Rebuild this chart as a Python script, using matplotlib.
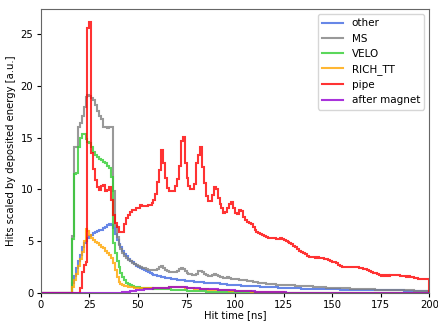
import matplotlib
matplotlib.use("Agg")
import matplotlib.pyplot as plt
import numpy as np

# hit time bins, 1 ns wide, 0..200 ns
bin_edges = np.arange(0, 201, 1)

other = [
    0, 0, 0, 0, 0, 0, 0, 0, 0, 0,
    0, 0, 0, 0, 0, 0, 1.0, 1.6, 2.4, 3.1,
    3.7, 4.4, 4.8, 5.0, 5.3, 5.5, 5.6, 5.8, 5.9, 5.95,
    6.05, 6.1, 6.25, 6.4, 6.55, 6.7, 6.6, 6.3, 5.7, 5.1,
    4.7, 4.4, 4.1, 3.8, 3.55, 3.3, 3.1, 2.95, 2.8, 2.65,
    2.5, 2.4, 2.3, 2.2, 2.1, 2.0, 1.92, 1.85, 1.78, 1.7,
    1.66, 1.62, 1.58, 1.52, 1.48, 1.45, 1.42, 1.4, 1.36, 1.33,
    1.3, 1.28, 1.26, 1.24, 1.2, 1.18, 1.16, 1.14, 1.12, 1.1,
    1.08, 1.06, 1.04, 1.02, 1.0, 1.0, 0.98, 0.97, 0.96, 0.95,
    0.94, 0.92, 0.9, 0.88, 0.86, 0.84, 0.82, 0.8, 0.79, 0.78,
    0.76, 0.75, 0.74, 0.72, 0.71, 0.70, 0.69, 0.68, 0.67, 0.66,
    0.65, 0.64, 0.63, 0.62, 0.61, 0.60, 0.59, 0.58, 0.57, 0.56,
    0.55, 0.54, 0.53, 0.52, 0.51, 0.50, 0.49, 0.48, 0.47, 0.46,
    0.46, 0.45, 0.45, 0.44, 0.43, 0.43, 0.42, 0.42, 0.41, 0.40,
    0.40, 0.39, 0.39, 0.38, 0.38, 0.37, 0.37, 0.36, 0.36, 0.35,
    0.35, 0.35, 0.34, 0.34, 0.33, 0.33, 0.33, 0.32, 0.32, 0.32,
    0.31, 0.31, 0.31, 0.30, 0.30, 0.30, 0.30, 0.29, 0.29, 0.29,
    0.29, 0.28, 0.28, 0.28, 0.28, 0.27, 0.27, 0.27, 0.27, 0.26,
    0.26, 0.26, 0.26, 0.25, 0.25, 0.25, 0.25, 0.24, 0.24, 0.24,
    0.24, 0.23, 0.23, 0.23, 0.22, 0.22, 0.22, 0.21, 0.21, 0.21,
]

ms = [
    0, 0, 0, 0, 0, 0, 0, 0, 0, 0,
    0, 0, 0, 0, 0, 0, 5.5, 14.1, 14.1, 16.0,
    16.4, 17.1, 17.9, 18.9, 19.1, 19.0, 18.8, 18.6, 18.1, 17.6,
    17.1, 16.8, 16.0, 16.0, 15.9, 16.0, 16.0, 9.8, 6.5, 5.4,
    4.6, 4.2, 3.9, 3.6, 3.4, 3.2, 3.05, 2.9, 2.8, 2.7,
    2.6, 2.5, 2.45, 2.4, 2.3, 2.25, 2.2, 2.25, 2.2, 2.25,
    2.3, 2.55, 2.6, 2.4, 2.25, 2.1, 2.05, 2.05, 2.0, 2.05,
    2.1, 2.3, 2.45, 2.35, 2.1, 1.95, 1.85, 1.8, 1.78, 1.75,
    1.85, 2.1, 2.15, 2.0, 1.8, 1.7, 1.65, 1.65, 1.75, 1.85,
    1.7, 1.6, 1.55, 1.5, 1.45, 1.48, 1.5, 1.45, 1.4, 1.35,
    1.38, 1.33, 1.30, 1.28, 1.24, 1.22, 1.20, 1.16, 1.12, 1.10,
    1.06, 1.03, 1.00, 0.98, 0.95, 0.92, 0.90, 0.88, 0.86, 0.84,
    0.83, 0.82, 0.80, 0.80, 0.78, 0.77, 0.76, 0.75, 0.74, 0.73,
    0.73, 0.72, 0.71, 0.70, 0.69, 0.68, 0.67, 0.66, 0.64, 0.63,
    0.62, 0.60, 0.59, 0.57, 0.56, 0.55, 0.54, 0.53, 0.52, 0.51,
    0.50, 0.49, 0.48, 0.48, 0.47, 0.46, 0.45, 0.45, 0.44, 0.43,
    0.42, 0.42, 0.41, 0.40, 0.39, 0.38, 0.38, 0.37, 0.36, 0.35,
    0.34, 0.34, 0.33, 0.32, 0.32, 0.31, 0.31, 0.30, 0.30, 0.30,
    0.29, 0.29, 0.29, 0.28, 0.28, 0.28, 0.28, 0.27, 0.27, 0.26,
    0.26, 0.25, 0.24, 0.23, 0.22, 0.22, 0.21, 0.21, 0.20, 0.20,
]

velo = [
    0, 0, 0, 0, 0, 0, 0, 0, 0, 0,
    0, 0, 0, 0, 0, 0, 5.2, 11.5, 11.6, 14.1,
    15.0, 15.3, 15.3, 14.9, 14.6, 14.5, 14.1, 13.6, 13.3, 13.1,
    12.9, 12.8, 12.65, 12.5, 12.3, 12.1, 11.2, 4.8, 3.9, 3.1,
    2.5, 1.9, 1.5, 1.25, 1.0, 0.85, 0.75, 0.68, 0.62, 0.58,
    0.55, 0.52, 0.50, 0.48, 0.47, 0.46, 0.45, 0.44, 0.42, 0.41,
    0.40, 0.39, 0.38, 0.37, 0.36, 0.35, 0.34, 0.33, 0.32, 0.31,
    0.30, 0.29, 0.27, 0.26, 0.25, 0.24, 0.22, 0.21, 0.20, 0.19,
    0.18, 0.17, 0.16, 0.15, 0.15, 0.14, 0.13, 0.13, 0.12, 0.12,
    0.11, 0.11, 0.10, 0.10, 0.09, 0.09, 0.09, 0.08, 0.08, 0.08,
    0.07, 0.07, 0.07, 0.07, 0.06, 0.06, 0.06, 0.06, 0.06, 0.05,
    0.05, 0.05, 0.05, 0.05, 0.05, 0.04, 0.04, 0.04, 0.04, 0.04,
    0.04, 0.04, 0.04, 0.03, 0.03, 0.03, 0.03, 0.03, 0.03, 0.03,
    0.03, 0.03, 0.03, 0.03, 0.03, 0.02, 0.02, 0.02, 0.02, 0.02,
    0.02, 0.02, 0.02, 0.02, 0.02, 0.02, 0.02, 0.02, 0.02, 0.02,
    0.02, 0.02, 0.02, 0.02, 0.02, 0.02, 0.02, 0.02, 0.02, 0.02,
    0.01, 0.01, 0.01, 0.01, 0.01, 0.01, 0.01, 0.01, 0.01, 0.01,
    0.01, 0.01, 0.01, 0.01, 0.01, 0.01, 0.01, 0.01, 0.01, 0.01,
    0.01, 0.01, 0.01, 0.01, 0.01, 0.01, 0.01, 0.01, 0.01, 0.01,
    0.01, 0.01, 0.01, 0.01, 0.01, 0.01, 0.01, 0.01, 0.01, 0.01,
]

rich_tt = [
    0, 0, 0, 0, 0, 0, 0, 0, 0, 0,
    0, 0, 0, 0, 0, 0, 0.6, 1.3, 1.8, 2.6,
    3.3, 4.0, 5.0, 6.2, 6.0, 5.6, 5.3, 5.1, 4.9, 4.8,
    4.6, 4.45, 4.3, 4.1, 3.9, 3.7, 3.35, 2.9, 2.2, 1.5,
    1.1, 0.9, 0.8, 0.7, 0.65, 0.6, 0.57, 0.55, 0.53, 0.50,
    0.50, 0.48, 0.48, 0.47, 0.46, 0.46, 0.45, 0.45, 0.46, 0.47,
    0.48, 0.49, 0.50, 0.51, 0.52, 0.53, 0.54, 0.55, 0.55, 0.56,
    0.56, 0.55, 0.55, 0.54, 0.52, 0.50, 0.48, 0.46, 0.44, 0.42,
    0.40, 0.38, 0.37, 0.36, 0.35, 0.34, 0.33, 0.32, 0.31, 0.30,
    0.30, 0.29, 0.28, 0.28, 0.27, 0.26, 0.25, 0.24, 0.23, 0.22,
    0.22, 0.21, 0.20, 0.19, 0.18, 0.17, 0.16, 0.15, 0.14, 0.13,
    0.12, 0.12, 0.11, 0.10, 0.10, 0.09, 0.09, 0.08, 0.08, 0.07,
    0.07, 0.07, 0.06, 0.06, 0.06, 0.05, 0.05, 0.05, 0.05, 0.04,
    0.04, 0.04, 0.04, 0.04, 0.03, 0.03, 0.03, 0.03, 0.03, 0.03,
    0.03, 0.03, 0.02, 0.02, 0.02, 0.02, 0.02, 0.02, 0.02, 0.02,
    0.02, 0.02, 0.02, 0.02, 0.02, 0.02, 0.02, 0.02, 0.02, 0.02,
    0.01, 0.01, 0.01, 0.01, 0.01, 0.01, 0.01, 0.01, 0.01, 0.01,
    0.01, 0.01, 0.01, 0.01, 0.01, 0.01, 0.01, 0.01, 0.01, 0.01,
    0.01, 0.01, 0.01, 0.01, 0.01, 0.01, 0.01, 0.01, 0.01, 0.01,
    0.01, 0.01, 0.01, 0.01, 0.01, 0.01, 0.01, 0.01, 0.01, 0.01,
]

pipe = [
    0, 0, 0, 0, 0, 0, 0, 0, 0, 0,
    0, 0, 0, 0, 0, 0, 0, 0, 0, 0,
    0.5, 2.0, 2.7, 3.0, 25.6, 26.1, 13.5, 12.0, 10.9, 10.2,
    9.9, 10.3, 10.4, 9.8, 9.9, 10.2, 9.0, 7.5, 6.8, 6.4,
    5.9, 5.9, 5.9, 6.7, 7.2, 7.5, 7.8, 8.0, 8.0, 8.2,
    8.2, 8.5, 8.4, 8.4, 8.4, 8.5, 8.5, 8.65, 9.0, 9.6,
    10.7, 11.9, 13.8, 12.5, 11.1, 10.1, 9.8, 9.8, 9.8, 10.3,
    11.0, 12.3, 14.7, 15.05, 12.5, 11.1, 10.3, 10.0, 10.0, 10.5,
    12.5, 13.3, 14.1, 12.2, 10.6, 9.4, 8.9, 8.9, 9.5, 10.2,
    10.0, 9.2, 8.6, 8.2, 7.7, 7.8, 8.2, 8.6, 8.8, 8.2,
    7.7, 7.6, 8.0, 7.9, 7.3, 7.0, 6.9, 6.8, 6.7, 6.4,
    6.1, 5.9, 5.8, 5.7, 5.6, 5.5, 5.45, 5.3, 5.35, 5.3,
    5.35, 5.25, 5.2, 5.3, 5.25, 5.1, 5.0, 4.95, 4.8, 4.7,
    4.55, 4.4, 4.2, 4.1, 3.95, 3.85, 3.75, 3.6, 3.5, 3.45,
    3.45, 3.4, 3.45, 3.4, 3.35, 3.4, 3.3, 3.25, 3.2, 3.1,
    3.0, 2.95, 2.85, 2.75, 2.65, 2.55, 2.5, 2.55, 2.5, 2.55,
    2.55, 2.5, 2.55, 2.5, 2.45, 2.4, 2.35, 2.3, 2.2, 2.15,
    2.05, 1.95, 1.9, 1.8, 1.7, 1.65, 1.7, 1.65, 1.7, 1.65,
    1.7, 1.7, 1.75, 1.7, 1.7, 1.65, 1.6, 1.6, 1.55, 1.6,
    1.55, 1.5, 1.45, 1.45, 1.4, 1.4, 1.4, 1.35, 1.4, 1.35,
]

after_magnet = [
    0, 0, 0, 0, 0, 0, 0, 0, 0, 0,
    0, 0, 0, 0, 0, 0, 0, 0, 0, 0,
    0, 0, 0, 0, 0, 0, 0, 0, 0, 0,
    0, 0, 0, 0, 0, 0, 0, 0, 0, 0,
    0.02, 0.04, 0.06, 0.08, 0.10, 0.13, 0.16, 0.19, 0.22, 0.25,
    0.28, 0.30, 0.32, 0.34, 0.36, 0.38, 0.40, 0.42, 0.44, 0.46,
    0.47, 0.48, 0.50, 0.51, 0.52, 0.53, 0.54, 0.55, 0.56, 0.57,
    0.58, 0.58, 0.57, 0.56, 0.55, 0.53, 0.52, 0.50, 0.48, 0.47,
    0.45, 0.44, 0.42, 0.41, 0.40, 0.39, 0.38, 0.37, 0.36, 0.35,
    0.34, 0.33, 0.32, 0.31, 0.30, 0.29, 0.28, 0.27, 0.26, 0.25,
    0.24, 0.23, 0.22, 0.21, 0.20, 0.19, 0.18, 0.17, 0.16, 0.15,
    0.14, 0.13, 0.12, 0.12, 0.11, 0.10, 0.10, 0.09, 0.09, 0.08,
    0.08, 0.07, 0.07, 0.06, 0.06, 0.06, 0.05, 0.05, 0.05, 0.04,
    0.04, 0.04, 0.04, 0.03, 0.03, 0.03, 0.03, 0.03, 0.02, 0.02,
    0.02, 0.02, 0.02, 0.02, 0.02, 0.02, 0.02, 0.01, 0.01, 0.01,
    0.01, 0.01, 0.01, 0.01, 0.01, 0.01, 0.01, 0.01, 0.01, 0.01,
    0.01, 0.01, 0.01, 0.01, 0.01, 0.01, 0.01, 0.01, 0.01, 0.01,
    0.01, 0.01, 0.01, 0.01, 0.01, 0.01, 0.01, 0.01, 0.01, 0.01,
    0.01, 0.01, 0.01, 0.01, 0.01, 0.01, 0.01, 0.01, 0.01, 0.01,
    0.01, 0.01, 0.01, 0.01, 0.01, 0.01, 0.01, 0.01, 0.01, 0.01,
]

labels = ['other', 'MS', 'VELO', 'RICH_TT', 'pipe', 'after magnet']
series = [other, ms, velo, rich_tt, pipe, after_magnet]
colors = ['royalblue', 'grey', 'limegreen', 'orange', 'red', 'darkviolet']

plt.rcParams['font.size'] = 7.2
plt.rcParams['xtick.major.pad'] = 2
plt.rcParams['ytick.major.pad'] = 2.5
plt.rcParams['xtick.major.size'] = 3
plt.rcParams['ytick.major.size'] = 3

fig = plt.figure(figsize=(4.39, 3.22), dpi=100)
ax = fig.add_axes([0.093, 0.09, 0.885, 0.882])

for vals, lab, col in zip(series, labels, colors):
    ax.stairs(np.array(vals), bin_edges, color=col, lw=1.5, alpha=0.8, label=lab)

ax.set_xlim(0, 200)
ax.set_ylim(0, 27.4)
ax.set_xlabel('Hit time [ns]', labelpad=0)
ax.set_ylabel('Hits scaled by deposited energy [a.u.]', labelpad=3)
for sp in ax.spines.values():
    sp.set_color('#666666')
ax.legend(loc='upper right', fontsize=7.5)

fig.savefig('out.png', dpi=100)
